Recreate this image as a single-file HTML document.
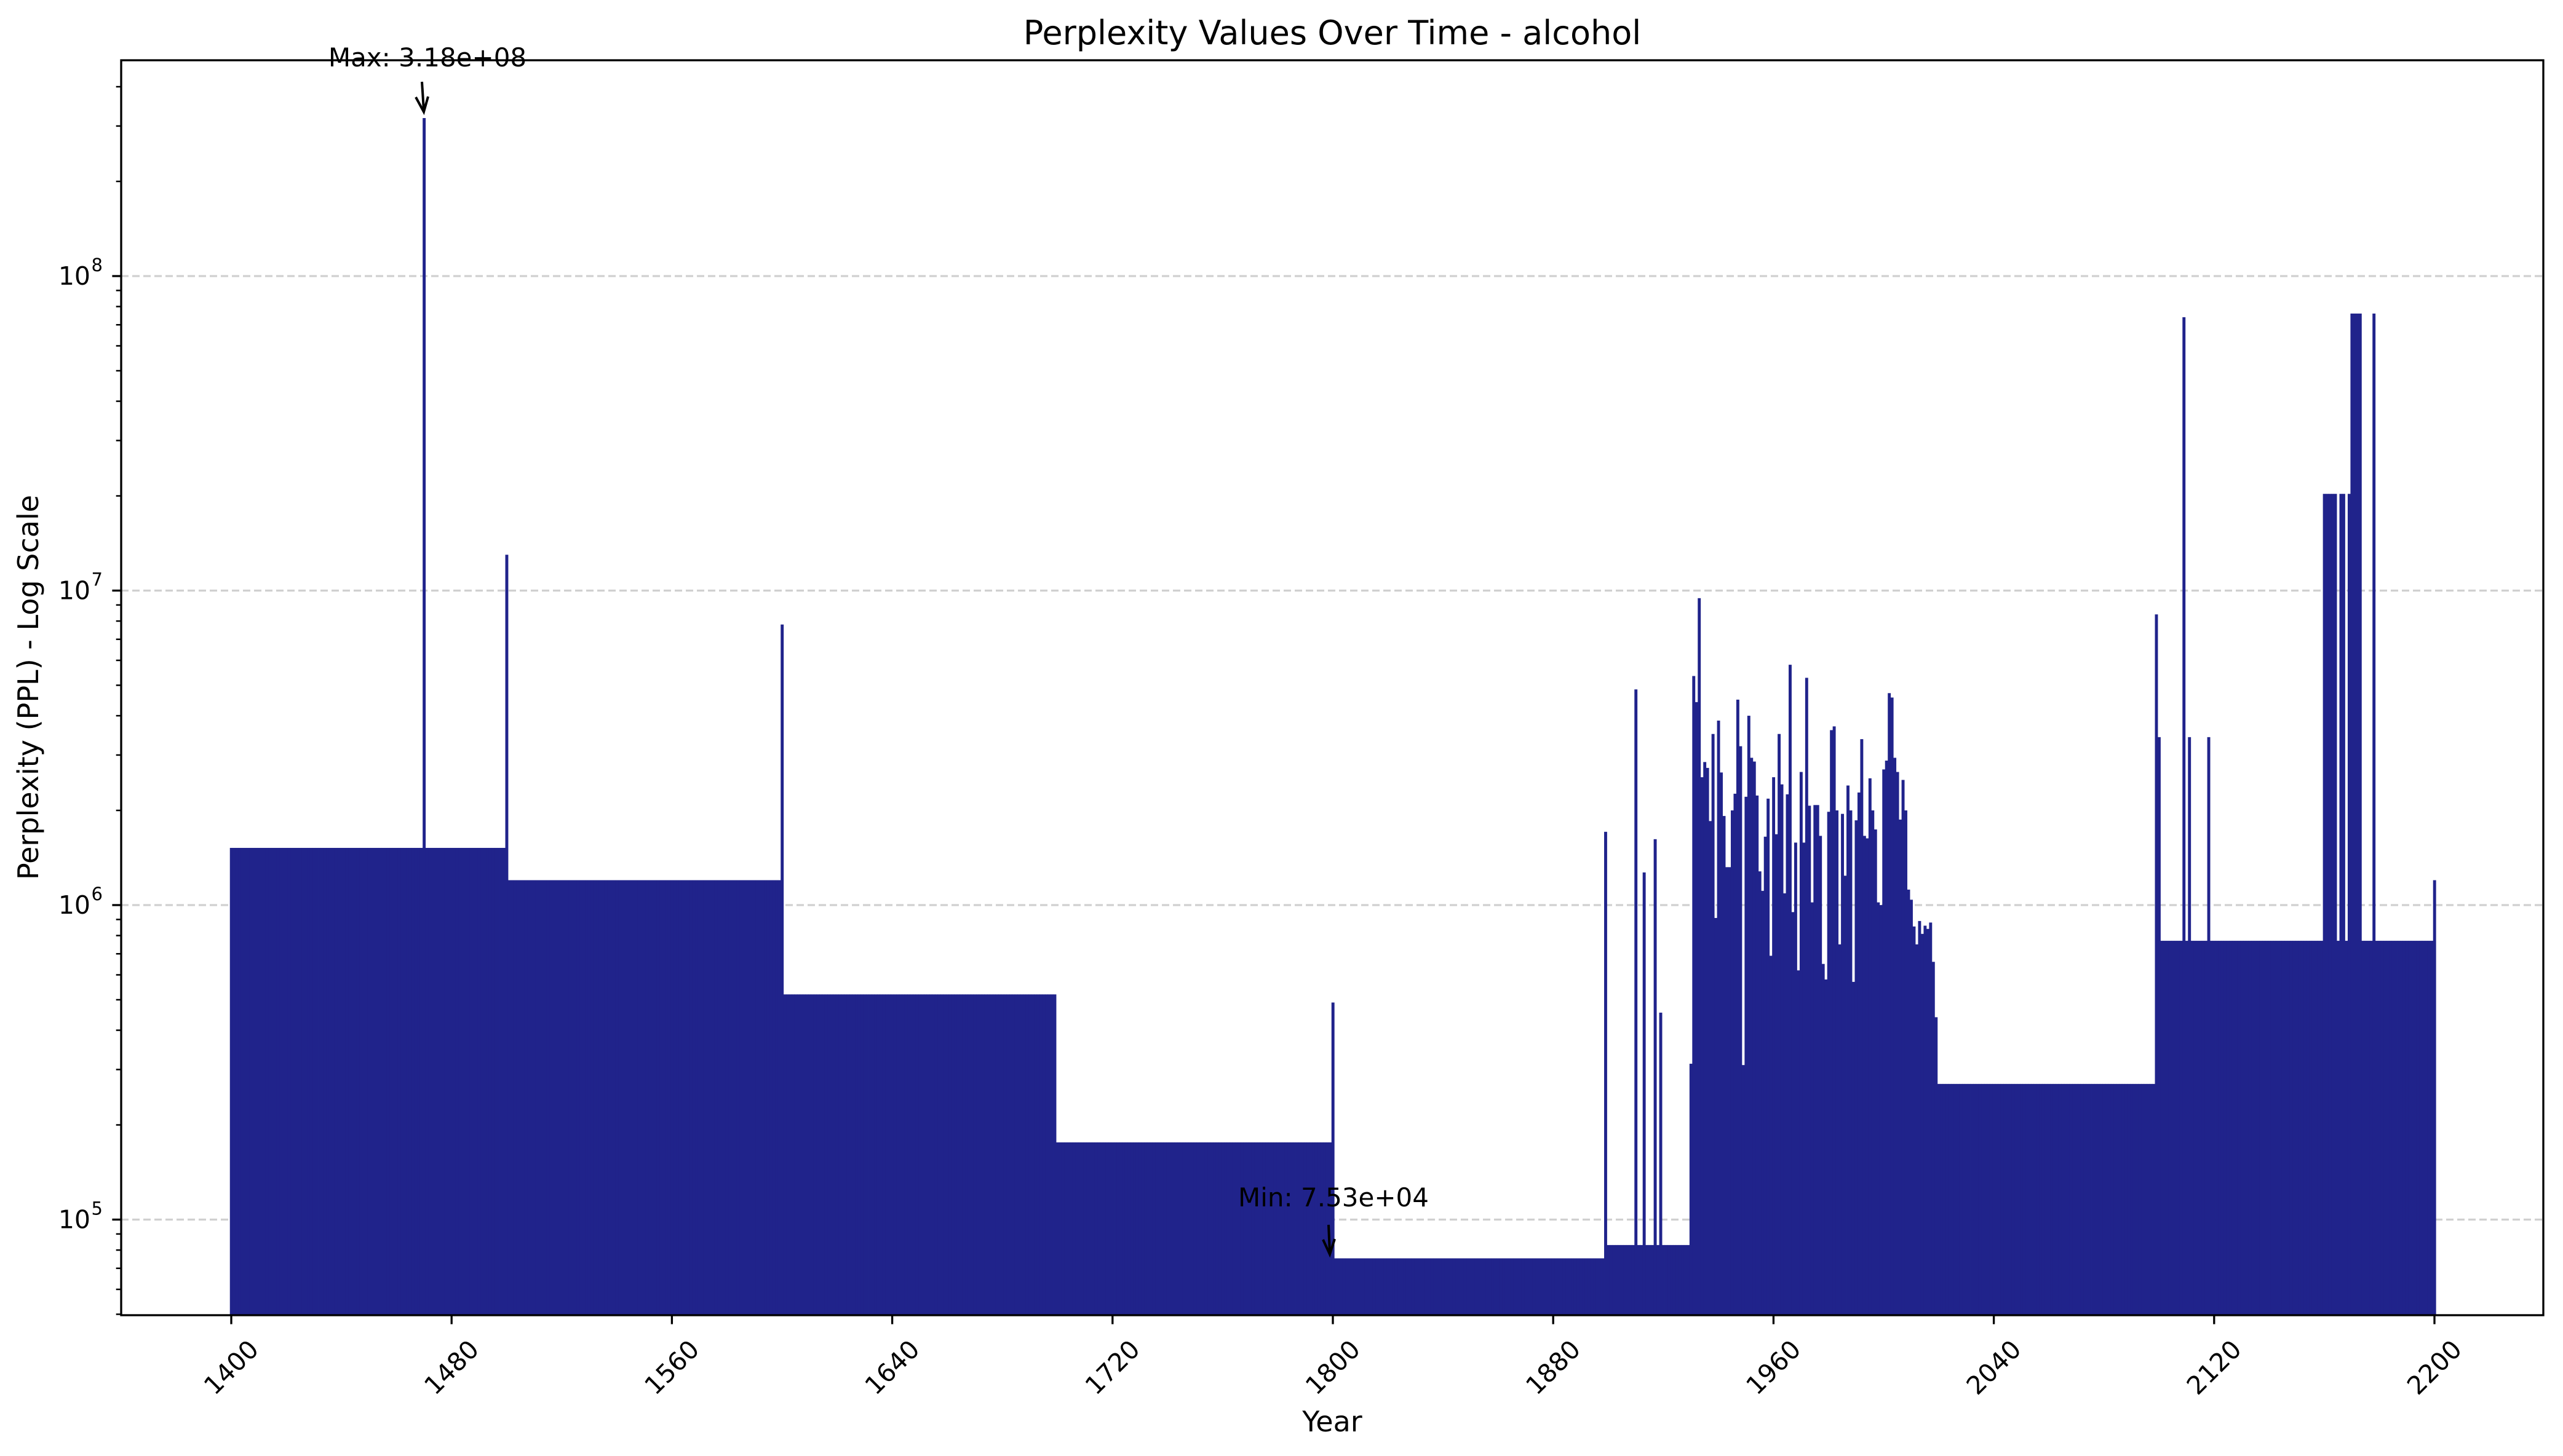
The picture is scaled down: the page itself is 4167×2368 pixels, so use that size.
<!DOCTYPE html>
<html><head><meta charset="utf-8"><style>
html,body{margin:0;padding:0;background:#fff;}
svg{display:block;font-family:"DejaVu Sans","Liberation Sans",sans-serif;}
</style></head><body>
<svg id="chart" width="4167" height="2368" viewBox="0 0 4167 2368">
<defs><clipPath id="plotclip"><rect x="197" y="98" width="3938" height="2041"/></clipPath></defs>
<rect x="0" y="0" width="4167" height="2368" fill="#fff"/>
<g id="grid"></g>
<g id="bars" clip-path="url(#plotclip)"></g>
<g id="axes"></g>
<text x="2166" y="72" font-size="54" text-anchor="middle">Perplexity Values Over Time - alcohol</text>
<text x="2166" y="2328" font-size="46" text-anchor="middle">Year</text>
<text x="62" y="1118" font-size="46" text-anchor="middle" transform="rotate(-90 62 1118)">Perplexity (PPL) - Log Scale</text>
<g>
<text x="695" y="108" font-size="42" text-anchor="middle">Max: 3.18e+08</text>
<line x1="686" y1="133" x2="689" y2="180" stroke="#000" stroke-width="4"/>
<path d="M676 158 L689 182 L696 157" fill="none" stroke="#000" stroke-width="4"/>
</g>
<g>
<text x="2168" y="1962" font-size="42" text-anchor="middle">Min: 7.53e+04</text>
<line x1="2160" y1="1992" x2="2162" y2="2038" stroke="#000" stroke-width="4"/>
<path d="M2151 2016 L2162 2040 L2170 2015" fill="none" stroke="#000" stroke-width="4"/>
</g>
</svg>
<script>
// ---- data ----
const levelStarts = [1400, 1500, 1600, 1700, 1800, 1899, 1931, 2020, 2099];
const levelEnds   = [1499, 1599, 1699, 1799, 1898, 1930, 2019, 2098, 2200];
const levelValues = [1.52e6, 1.2e6, 5.2e5, 1.76e5, 7.53e4, 8.3e4, 8.3e4, 2.7e5, 7.7e5];
const spikeYears  = [1470, 1500, 1600, 1800, 1899, 1910, 1913, 1917, 1919, 1930, 2099, 2100, 2109, 2111, 2118, 2160, 2161, 2162, 2163, 2164, 2166, 2167, 2169, 2170, 2171, 2172, 2173, 2178, 2200];
const spikeValues = [3.18e8, 1.3e7, 7.8e6, 4.9e5, 1.71e6, 4.85e6, 1.27e6, 1.62e6, 4.55e5, 3.13e5, 8.4e6, 3.42e6, 7.4e7, 3.42e6, 3.42e6, 2.03e7, 2.03e7, 2.03e7, 2.03e7, 2.03e7, 2.03e7, 2.03e7, 2.03e7, 7.6e7, 7.6e7, 7.6e7, 7.6e7, 7.6e7, 1.2e6];
const denseStart = 1931;
const denseValues = [5.35e6,4.42e6,9.46e6,2.55e6,2.85e6,2.73e6,1.85e6,3.5e6,9.1e5,3.86e6,
2.64e6,1.92e6,1.32e6,1.32e6,2.0e6,2.26e6,4.5e6,3.2e6,3.1e5,2.21e6,
4.0e6,2.94e6,2.86e6,2.23e6,1.28e6,1.11e6,1.65e6,2.18e6,6.9e5,2.55e6,
1.68e6,3.5e6,2.42e6,1.09e6,2.25e6,5.81e6,9.5e5,1.58e6,6.2e5,2.65e6,
1.58e6,5.28e6,2.07e6,1.02e6,2.08e6,2.08e6,1.66e6,6.5e5,5.8e5,1.98e6,
3.6e6,3.7e6,2.0e6,7.5e5,1.95e6,1.24e6,2.4e6,2.0e6,5.7e5,1.86e6,
2.28e6,3.37e6,1.66e6,1.63e6,2.53e6,2.0e6,1.74e6,1.02e6,1.0e6,2.7e6,
2.88e6,4.72e6,4.57e6,2.94e6,2.65e6,1.87e6,2.5e6,2.0e6,1.12e6,1.04e6,
8.55e5,7.5e5,8.9e5,8.1e5,8.6e5,8.4e5,8.8e5,6.6e5,4.4e5];
const xTicks = [1400,1480,1560,1640,1720,1800,1880,1960,2040,2120,2200];
const yMajorExps = [5,6,7,8];

// ---- scales ----
const L=197,R=4135,T=98,B=2139;
const xs = y => 376 + (y-1400)*4.4775;
const ys = v => 449 - (Math.log10(v)-8)*511.5;
const NS='http://www.w3.org/2000/svg';
function mk(tag, attrs, parent){const e=document.createElementNS(NS,tag);for(const k in attrs)e.setAttribute(k,attrs[k]);parent.appendChild(e);return e;}

const values = {};
for(let i=0;i<levelStarts.length;i++) for(let y=levelStarts[i];y<=levelEnds[i];y++) values[y]=levelValues[i];
denseValues.forEach((v,i)=>{values[denseStart+i]=v;});
spikeYears.forEach((y,i)=>{values[y]=spikeValues[i];});

const grid=document.getElementById('grid');
yMajorExps.forEach(e=>{
  const y=ys(Math.pow(10,e));
  const g=mk('line',{x1:L,x2:R,y1:y,y2:y,stroke:'#d0d0d0','stroke-width':3.3,'stroke-dasharray':'12 6'},grid);
  
  
});

const bars=document.getElementById('bars');
Object.keys(values).map(Number).sort((a,b)=>a-b).forEach(yr=>{
  const v=values[yr];
  const top=ys(v);
  const r=mk('rect',{x:xs(yr)-2.25,y:top,width:4.9,height:B-top,fill:'#20238b'},bars);
  
  
});

const ax=document.getElementById('axes');
const frame=mk('rect',{x:L,y:T,width:R-L,height:B-T,fill:'none',stroke:'#000','stroke-width':3.3},ax);


xTicks.forEach(t=>{
  const x=xs(t);
  const tk=mk('line',{x1:x,x2:x,y1:B,y2:B+14.6,stroke:'#000','stroke-width':3.3},ax);
  
  
  const tx=mk('text',{x:x,y:2224,'font-size':41,'text-anchor':'middle','dominant-baseline':'central',transform:`rotate(-45 ${x} 2224)`},ax);
  tx.textContent=String(t);
  
  
});
yMajorExps.forEach(e=>{
  const y=ys(Math.pow(10,e));
  const tk=mk('line',{x1:L-14.6,x2:L,y1:y,y2:y,stroke:'#000','stroke-width':3.3},ax);
  
  
  const tx=mk('text',{x:L-50,y:y+14,'font-size':41,'text-anchor':'end'},ax);
  tx.textContent='10';
  
  
  const sup=mk('text',{x:L-30,y:y-8,'font-size':29,'text-anchor':'end'},ax);
  sup.textContent=String(e);
  
  
});
for(let e=4;e<=8;e++){for(let m=2;m<=9;m++){
  const y=ys(m*Math.pow(10,e));
  if(y<T||y>B)continue;
  const tk=mk('line',{x1:L-8.3,x2:L,y1:y,y2:y,stroke:'#000','stroke-width':2.5},ax);
  
  
}}
</script>
</body></html>
